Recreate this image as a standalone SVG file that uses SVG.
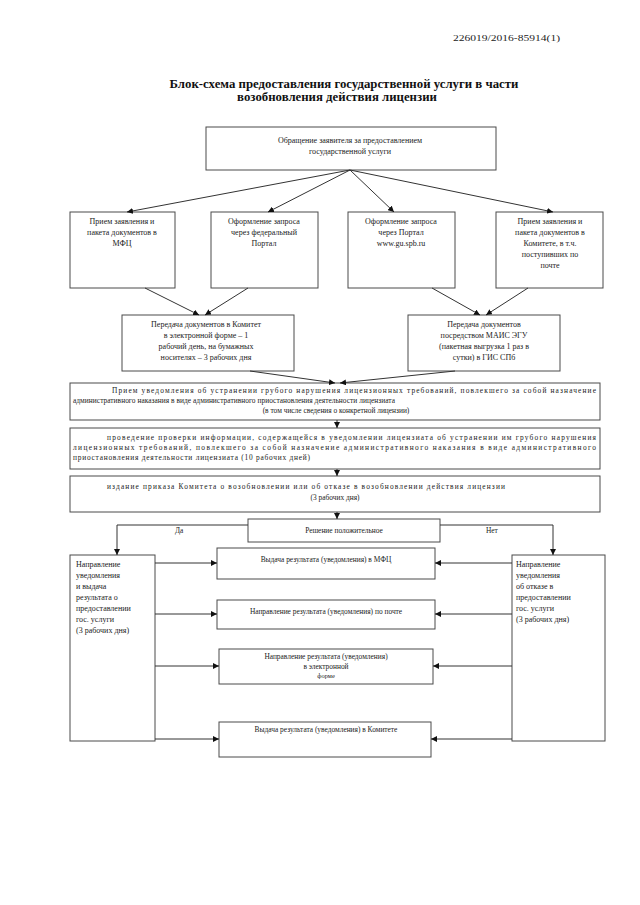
<svg xmlns="http://www.w3.org/2000/svg" width="640" height="905" viewBox="0 0 640 905">
<style>
.b{fill:#fff;stroke:#4a4a4a;stroke-width:1}
.t{font-family:"Liberation Serif",serif;font-size:8px;fill:#222}
.c{text-anchor:middle}
.s{font-size:7.4px}
.ttl{font-family:"Liberation Serif",serif;font-size:12.8px;font-weight:bold;fill:#111;text-anchor:middle}
.l{fill:none;stroke:#333;stroke-width:1}
</style>
<defs>
<marker id="a" viewBox="0 0 10 10" refX="10" refY="5" markerWidth="6" markerHeight="6" orient="auto" markerUnits="userSpaceOnUse">
<path d="M0,0 L10,5 L0,10 z" fill="#111"/>
</marker>
</defs>
<rect width="640" height="905" fill="#fff"/>
<text class="t" x="453" y="41" textLength="107" lengthAdjust="spacingAndGlyphs">226019/2016-85914(1)</text>
<text class="ttl" x="344" y="88">Блок-схема предоставления государственной услуги в части</text>
<text class="ttl" x="337" y="101">возобновления действия лицензии</text>

<g id="n1"><rect class="b" x="206" y="127" width="290" height="43"/>
<text class="t c" x="350" y="143">Обращение заявителя за предоставлением</text>
<text class="t c" x="350" y="154">государственной услуги</text></g>

<g id="nA"><rect class="b" x="70" y="212" width="105" height="76"/>
<text class="t c" x="122" y="224">Прием заявления и</text>
<text class="t c" x="122" y="235">пакета документов в</text>
<text class="t c" x="122" y="246">МФЦ</text></g>

<g id="nB"><rect class="b" x="211" y="212" width="107" height="76"/>
<text class="t c" x="264" y="224">Оформление запроса</text>
<text class="t c" x="264" y="235">через федеральный</text>
<text class="t c" x="264" y="246">Портал</text></g>

<g id="nC"><rect class="b" x="348" y="212" width="107" height="76"/>
<text class="t c" x="401" y="224">Оформление запроса</text>
<text class="t c" x="401" y="235">через Портал</text>
<text class="t c" x="401" y="246">www.gu.spb.ru</text></g>

<g id="nD"><rect class="b" x="496" y="212" width="107" height="76"/>
<text class="t c" x="550" y="224">Прием заявления и</text>
<text class="t c" x="550" y="235">пакета документов в</text>
<text class="t c" x="550" y="246">Комитете, в т.ч.</text>
<text class="t c" x="550" y="257">поступивших по</text>
<text class="t c" x="550" y="268">почте</text></g>

<g id="nE"><rect class="b" x="122" y="315" width="172" height="56"/>
<text class="t c" x="206" y="327">Передача документов в Комитет</text>
<text class="t c" x="206" y="338">в электронной форме – 1</text>
<text class="t c" x="206" y="349">рабочий день, на бумажных</text>
<text class="t c" x="206" y="360">носителях – 3 рабочих дня</text></g>

<g id="nF"><rect class="b" x="408" y="315" width="152" height="56"/>
<text class="t c" x="484" y="327">Передача документов</text>
<text class="t c" x="484" y="338">посредством МАИС ЭГУ</text>
<text class="t c" x="484" y="349">(пакетная выгрузка 1 раз в</text>
<text class="t c" x="484" y="360">сутки) в ГИС СПб</text></g>

<g id="nG"><rect class="b" x="70" y="383" width="530" height="37"/>
<text class="t s" x="112" y="393" textLength="484" lengthAdjust="spacing">Прием уведомления об устранении грубого нарушения лицензионных требований, повлекшего за собой назначение</text>
<text class="t s" x="73" y="403" textLength="322" lengthAdjust="spacing">административного наказания  в виде административного приостановления деятельности лицензиата</text>
<text class="t s c" x="336" y="413">(в том числе сведения о конкретной лицензии)</text></g>

<g id="nH"><rect class="b" x="70" y="428" width="530" height="41"/>
<text class="t s" x="107" y="440" textLength="489" lengthAdjust="spacing">проведение проверки информации, содержащейся в уведомлении лицензиата об устранении им грубого нарушения</text>
<text class="t s" x="73" y="450" textLength="523" lengthAdjust="spacing">лицензионных требований, повлекшего за собой назначение административного  наказания  в  виде  административного</text>
<text class="t s" x="73" y="460" textLength="237" lengthAdjust="spacing">приостановления деятельности лицензиата (10 рабочих дней)</text></g>

<g id="nI"><rect class="b" x="70" y="476" width="530" height="36"/>
<text class="t s" x="107" y="489" textLength="398" lengthAdjust="spacing">издание приказа Комитета о возобновлении или об отказе  в возобновлении действия лицензии</text>
<text class="t s c" x="335" y="500">(3 рабочих дня)</text></g>

<g id="nR"><rect class="b" x="248" y="519" width="192" height="23"/>
<text class="t s c" x="344" y="533">Решение положительное</text></g>

<g id="nJ"><rect class="b" x="70" y="555" width="85" height="186"/>
<text class="t" x="76" y="567">Направление</text>
<text class="t" x="76" y="578">уведомления</text>
<text class="t" x="76" y="589">и выдача</text>
<text class="t" x="76" y="600">результата  о</text>
<text class="t" x="76" y="611">предоставлении</text>
<text class="t" x="76" y="622">гос. услуги</text>
<text class="t" x="76" y="633">(3 рабочих дня)</text></g>

<g id="nK"><rect class="b" x="512" y="555" width="93" height="186"/>
<text class="t" x="516" y="567">Направление</text>
<text class="t" x="516" y="578">уведомления</text>
<text class="t" x="516" y="589">об отказе в</text>
<text class="t" x="516" y="600">предоставлении</text>
<text class="t" x="516" y="611">гос. услуги</text>
<text class="t" x="516" y="622">(3 рабочих дня)</text></g>

<g id="nM1"><rect class="b" x="217" y="548" width="218" height="31"/>
<text class="t s c" x="326" y="562">Выдача результата (уведомления) в МФЦ</text></g>

<g id="nM2"><rect class="b" x="217" y="600" width="218" height="29"/>
<text class="t s c" x="326" y="614">Направление результата  (уведомления) по почте</text></g>

<g id="nM3"><rect class="b" x="219" y="649" width="214" height="35"/>
<text class="t s c" x="326" y="659">Направление результата (уведомления)</text>
<text class="t s c" x="326" y="669">в электронной</text>
<text class="t s c" x="326" y="678" style="font-size:6.5px">форме</text></g>

<g id="nM4"><rect class="b" x="219" y="722" width="212" height="35"/>
<text class="t s c" x="326" y="732">Выдача результата (уведомления) в Комитете</text></g>

<g id="connectors">
<line class="l" x1="350" y1="170" x2="127" y2="212" marker-end="url(#a)"/>
<line class="l" x1="350" y1="170" x2="268" y2="212" marker-end="url(#a)"/>
<line class="l" x1="350" y1="170" x2="394" y2="212" marker-end="url(#a)"/>
<line class="l" x1="350" y1="170" x2="553" y2="212" marker-end="url(#a)"/>
<line class="l" x1="145" y1="288" x2="199" y2="315" marker-end="url(#a)"/>
<line class="l" x1="248" y1="288" x2="205" y2="315" marker-end="url(#a)"/>
<line class="l" x1="432" y1="288" x2="480" y2="315" marker-end="url(#a)"/>
<line class="l" x1="528" y1="288" x2="486" y2="315" marker-end="url(#a)"/>
<line class="l" x1="250" y1="371" x2="335" y2="383" marker-end="url(#a)"/>
<line class="l" x1="455" y1="371" x2="340" y2="383" marker-end="url(#a)"/>
<line class="l" x1="337" y1="420" x2="337" y2="428" marker-end="url(#a)"/>
<line class="l" x1="337" y1="469" x2="337" y2="476" marker-end="url(#a)"/>
<line class="l" x1="337" y1="512" x2="337" y2="519" marker-end="url(#a)"/>
<polyline class="l" points="248,525 117,525 117,555" marker-end="url(#a)"/>
<polyline class="l" points="440,525 553,525 553,555" marker-end="url(#a)"/>
<text class="t s" x="175" y="533">Да</text>
<text class="t s" x="486" y="533">Нет</text>
<line class="l" x1="155" y1="563" x2="217" y2="563" marker-end="url(#a)"/>
<line class="l" x1="155" y1="614" x2="217" y2="614" marker-end="url(#a)"/>
<line class="l" x1="155" y1="666" x2="219" y2="666" marker-end="url(#a)"/>
<line class="l" x1="155" y1="739" x2="219" y2="739" marker-end="url(#a)"/>
<line class="l" x1="512" y1="563" x2="435" y2="563" marker-end="url(#a)"/>
<line class="l" x1="512" y1="614" x2="435" y2="614" marker-end="url(#a)"/>
<line class="l" x1="512" y1="666" x2="433" y2="666" marker-end="url(#a)"/>
<line class="l" x1="512" y1="739" x2="431" y2="739" marker-end="url(#a)"/>
</g>
</svg>
